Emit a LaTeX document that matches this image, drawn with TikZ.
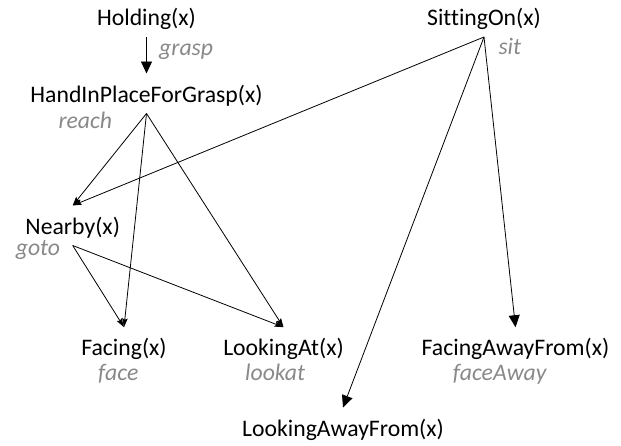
\documentclass[tikz,border=0pt]{standalone}
\usepackage{fontspec}
\setmainfont{Carlito}[Ligatures=NoCommon]
\usetikzlibrary{arrows.meta}
\definecolor{labgray}{RGB}{137,137,137}
\begin{document}
\begin{tikzpicture}[x=1pt,y=-1pt,
  pred/.style={anchor=base,inner sep=0pt,outer sep=0pt,text height=28.5pt,text depth=11.5pt,
    font=\fontsize{23.7}{28}\selectfont},
  act/.style={anchor=base west,inner sep=0pt,text=labgray,
    font=\fontsize{23.7}{28}\selectfont\itshape},
  big/.style={line width=0.8pt,-{Triangle[length=12pt,width=11pt]}},
  small/.style={line width=0.8pt,-{Stealth[length=9pt,width=5.5pt,inset=1.5pt]}}]
\useasboundingbox (0,0) rectangle (621,445);
\node[pred] (hold) at (146.5,25.5) {Holding(x)};
\node[pred] (hand) at (146.5,102) {HandInPlaceForGrasp(x)};
\node[pred] (sit) at (484,25.5) {SittingOn(x)};
\node[pred] (near) at (72.7,234) {Nearby(x)};
\node[pred] (face) at (124,355.7) {Facing(x)};
\node[pred] (look) at (283.5,355.7) {LookingAt(x)};
\node[pred] (faway) at (515.5,355.7) {FacingAwayFrom(x)};
\node[pred] (laway) at (343,436) {LookingAwayFrom(x)};
\node[act] (lgrasp) at (159,55) {grasp};
\node[act] (lreach) at (58.3,128.3) {reach};
\node[act] (lsit) at (498.3,54.3) {sit};
\node[act] (lgoto) at (15.7,255) {goto};
\node[act] (lface) at (98,380) {face};
\node[act] (llook) at (245,380) {lookat};
\node[act] (lfaway) at (452.7,380) {faceAway};
\draw[big] (hold.south) -- (hand.north);
\draw[small] (hand.south) -- (near.north);
\draw[small] (hand.south) -- (face.north);
\draw[small] (hand.south) -- (look.north);
\draw[small] (sit.south) -- (near.north);
\draw[big] (sit.south) -- (laway.north);
\draw[big] (sit.south) -- (faway.north);
\draw[small] (near.south) -- (face.north);
\draw[small] (near.south) -- (look.north);
\end{tikzpicture}
\end{document}
